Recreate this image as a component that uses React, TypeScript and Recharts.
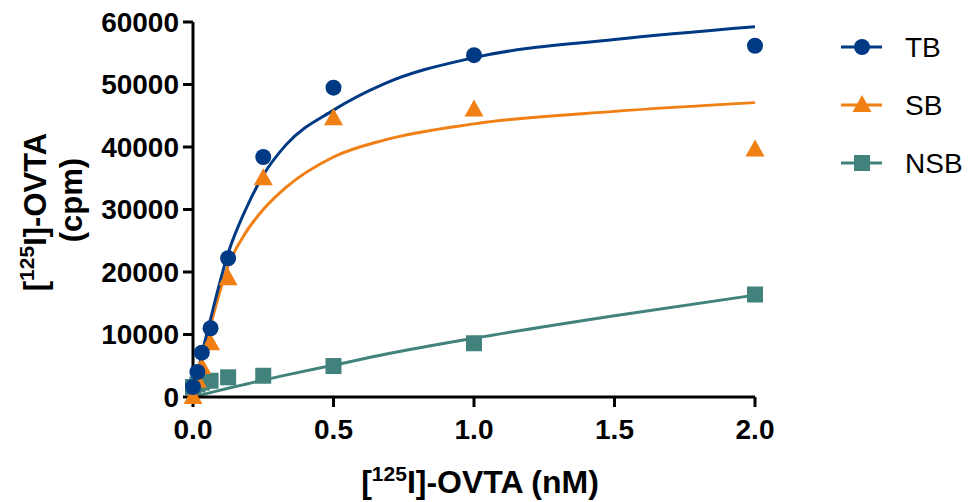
import React from 'react';
import { ComposedChart, Line, Scatter, XAxis, YAxis } from 'recharts';

// measured doses (nM) and counts (cpm)
const doses = [0, 0.0156, 0.03125, 0.0625, 0.125, 0.25, 0.5, 1, 2];
const tbValues = [1600, 4000, 7100, 11000, 22200, 38400, 49500, 54700, 56200];
const sbValues = [0, 2600, 4800, 8600, 19000, 35000, 44600, 46000, 39600];
const nsbValues = [1600, 2000, 2300, 2600, 3150, 3400, 4950, 8600, 16400];

// fitted curves
const fitDoses = [0, 0.03125, 0.0625, 0.125, 0.1875, 0.25, 0.33, 0.5, 0.68, 1, 1.5, 2];
const tbFit = [0, 6800, 12500, 23000, 30000, 35500, 40300, 45900, 50100, 54300, 57200, 59250];
const sbFit = [0, 6200, 11500, 21000, 26300, 30000, 33500, 38400, 41100, 43700, 45700, 47100];
const nsbFit = [0, 350, 700, 1400, 2050, 2700, 3500, 5100, 6800, 9400, 13000, 16300];

const xTicks = [0, 0.5, 1, 1.5, 2];
const yTicks = [0, 10000, 20000, 30000, 40000, 50000, 60000];

const TB_COLOR = '#003a84';
const SB_COLOR = '#f07f14';
const NSB_COLOR = '#42827c';
const FONT = '"Liberation Sans", Arial, sans-serif';

const toPoints = (xs: number[], ys: number[]) => xs.map((x, i) => ({ x, y: ys[i] }));

const tbPoints = toPoints(doses, tbValues);
const sbPoints = toPoints(doses, sbValues);
const nsbPoints = toPoints(doses, nsbValues);
const tbCurve = toPoints(fitDoses, tbFit);
const sbCurve = toPoints(fitDoses, sbFit);
const nsbCurve = toPoints(fitDoses, nsbFit);

const Dot = ({ cx, cy, color }: any) => <circle cx={cx} cy={cy} r={8} fill={color} />;
const Tri = ({ cx, cy, color }: any) => (
  <polygon points={`${cx},${cy - 10} ${cx + 9.5},${cy + 7} ${cx - 9.5},${cy + 7}`} fill={color} />
);
const Sq = ({ cx, cy, color }: any) => <rect x={cx - 8} y={cy - 8} width={16} height={16} fill={color} />;

const tickStyle = { fontSize: 28, fontWeight: 700, fill: '#000', fontFamily: FONT };
const axisLine = { stroke: '#000', strokeWidth: 3 };

const legendItems = [
  { name: 'TB', color: TB_COLOR, Mark: Dot, y: 47 },
  { name: 'SB', color: SB_COLOR, Mark: Tri, y: 105 },
  { name: 'NSB', color: NSB_COLOR, Mark: Sq, y: 163 },
];

export default function App() {
  return (
    <div style={{ position: 'absolute', left: 0, top: 0, width: 969, height: 502, background: '#fff' }}>
      <ComposedChart width={969} height={502} margin={{ top: 22, right: 214, bottom: 0, left: 0 }}>
        <XAxis
          dataKey="x"
          type="number"
          domain={[0, 2]}
          ticks={xTicks}
          tickFormatter={(v: number) => v.toFixed(1)}
          height={105}
          tickSize={10}
          tickMargin={12}
          tick={tickStyle}
          axisLine={axisLine}
          tickLine={axisLine}
          allowDuplicatedCategory={false}
        />
        <YAxis
          dataKey="y"
          type="number"
          domain={[0, 60000]}
          ticks={yTicks}
          width={193}
          tickSize={10}
          tickMargin={4}
          tick={tickStyle}
          axisLine={axisLine}
          tickLine={axisLine}
        />
        <Line data={nsbCurve} dataKey="y" type="monotone" stroke={NSB_COLOR} strokeWidth={3} dot={false} isAnimationActive={false} />
        <Line data={sbCurve} dataKey="y" type="monotone" stroke={SB_COLOR} strokeWidth={3} dot={false} isAnimationActive={false} />
        <Line data={tbCurve} dataKey="y" type="monotone" stroke={TB_COLOR} strokeWidth={3} dot={false} isAnimationActive={false} />
        <Scatter data={nsbPoints} dataKey="y" shape={(p: any) => <Sq cx={p.cx} cy={p.cy} color={NSB_COLOR} />} isAnimationActive={false} />
        <Scatter data={sbPoints} dataKey="y" shape={(p: any) => <Tri cx={p.cx} cy={p.cy} color={SB_COLOR} />} isAnimationActive={false} />
        <Scatter data={tbPoints} dataKey="y" shape={(p: any) => <Dot cx={p.cx} cy={p.cy} color={TB_COLOR} />} isAnimationActive={false} />
      </ComposedChart>
      <svg width={969} height={502} style={{ position: 'absolute', left: 0, top: 0, pointerEvents: 'none' }}>
        <text x={480} y={493} textAnchor="middle" fontSize={32} fontWeight={700} fontFamily={FONT}>
          [<tspan fontSize={21} dy={-12}>125</tspan>
          <tspan dy={12}>I]-OVTA (nM)</tspan>
        </text>
        <text x={46} y={212} transform="rotate(-90, 46, 212)" textAnchor="middle" fontSize={31} fontWeight={700} fontFamily={FONT}>
          [<tspan fontSize={21} dy={-12}>125</tspan>
          <tspan dy={12}>I]-OVTA</tspan>
        </text>
        <text x={82} y={200} transform="rotate(-90, 82, 200)" textAnchor="middle" fontSize={31} fontWeight={700} fontFamily={FONT}>
          (cpm)
        </text>
        {legendItems.map(({ name, color, Mark, y }) => (
          <g key={name}>
            <line x1={841} x2={882} y1={y} y2={y} stroke={color} strokeWidth={3} />
            <Mark cx={862} cy={y} color={color} />
            <text x={905} y={y} dominantBaseline="central" fontSize={28} fontFamily={FONT}>
              {name}
            </text>
          </g>
        ))}
      </svg>
    </div>
  );
}
